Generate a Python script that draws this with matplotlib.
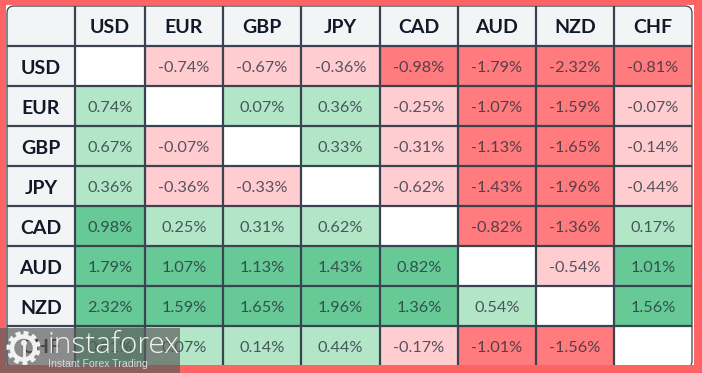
import numpy as np
import matplotlib.pyplot as plt
from matplotlib.patches import Rectangle, FancyBboxPatch, Circle

plt.rcParams['font.family'] = ['Lato', 'DejaVu Sans']

# Données du tableau
devises = ['USD', 'EUR', 'GBP', 'JPY', 'CAD', 'AUD', 'NZD', 'CHF']
usd = [None, -0.74, -0.67, -0.36, -0.98, -1.79, -2.32, -0.81]
eur = [0.74, None, 0.07, 0.36, -0.25, -1.07, -1.59, -0.07]
gbp = [0.67, -0.07, None, 0.33, -0.31, -1.13, -1.65, -0.14]
jpy = [0.36, -0.36, -0.33, None, -0.62, -1.43, -1.96, -0.44]
cad = [0.98, 0.25, 0.31, 0.62, None, -0.82, -1.36, 0.17]
aud = [1.79, 1.07, 1.13, 1.43, 0.82, None, -0.54, 1.01]
nzd = [2.32, 1.59, 1.65, 1.96, 1.36, 0.54, None, 1.56]
chf = [0.81, 0.07, 0.14, 0.44, -0.17, -1.01, -1.56, None]
lignes = [usd, eur, gbp, jpy, cad, aud, nzd, chf]

# Bords des colonnes et des lignes en pixels
bords_x = [7, 75, 145, 223, 301, 380, 458, 536, 614, 692]
bords_y = [6, 46, 86, 126, 166, 206, 246, 286, 326, 365]

ROUGE = '#ff6464'
TRAIT = '#3a4350'

def couleur(v):
    if v is None:
        return 'white'
    if v >= 0.75:
        return '#66c996'
    if v > 0:
        return '#b2e6c6'
    if v <= -0.75:
        return '#ff7b7e'
    return '#ffcccf'

fig = plt.figure(figsize=(7.02, 3.73), dpi=100, facecolor=ROUGE)
ax = fig.add_axes([0, 0, 1, 1])
ax.set_xlim(0, 702)
ax.set_ylim(373, 0)
ax.axis('off')

# Carte blanche derrière le tableau
ax.add_patch(Rectangle((6, 5), 688, 360, fc='white', ec='none', zorder=0))

# Fond de l'en-tête avec coins arrondis
fond = FancyBboxPatch((7, 6), 685, 362, boxstyle='round,pad=0,rounding_size=7',
                      fc='#f3f4f6', ec='none', zorder=1)
ax.add_patch(fond)

# Cellules
for i, ligne in enumerate(lignes):
    for j, v in enumerate(ligne):
        r = Rectangle((bords_x[j + 1], bords_y[i + 1]),
                      bords_x[j + 2] - bords_x[j + 1], bords_y[i + 2] - bords_y[i + 1],
                      fc=couleur(v), ec='none', zorder=2)
        ax.add_patch(r)
        if v is not None:
            ax.text((bords_x[j + 1] + bords_x[j + 2]) / 2, (bords_y[i + 1] + bords_y[i + 2]) / 2 + 2,
                    f'{v:.2f}%', ha='center', va='center', fontsize=11.7, color='#1f2937',
                    alpha=0.75, zorder=4)

# Traits de la grille
for x in bords_x[1:-1]:
    ax.plot([x, x], [bords_y[0], bords_y[-1]], color=TRAIT, lw=1.6, zorder=3, solid_capstyle='butt')
for y in bords_y[1:-1]:
    ax.plot([bords_x[0], bords_x[-1]], [y, y], color=TRAIT, lw=1.6, zorder=3, solid_capstyle='butt')
cadre = FancyBboxPatch((7, 6), 685, 362, boxstyle='round,pad=0,rounding_size=7',
                       fc='none', ec=TRAIT, lw=0.9, zorder=3)
ax.add_patch(cadre)

# Le tableau est coupé en bas
ax.add_patch(Rectangle((0, 365), 702, 8, fc=ROUGE, ec='none', zorder=3.5))

# En-têtes
for j, d in enumerate(devises):
    ax.text((bords_x[j + 1] + bords_x[j + 2]) / 2, 27.5, d, ha='center', va='center',
            fontsize=14, fontweight='bold', color='#111827', zorder=4)
    ax.text(41, (bords_y[j + 1] + bords_y[j + 2]) / 2 + 2, d, ha='center', va='center',
            fontsize=14, fontweight='bold', color='#111827', zorder=4)

# Filigrane
ax.add_patch(Rectangle((0, 328), 180, 45, fc='#5c5c5c', alpha=0.69, ec='none', zorder=5))
ax.add_patch(Circle((23.5, 348), 14.5, fc='none', ec='#f2f2f2', lw=3.6,
                    ls=(0, (0.95, 0.72)), zorder=6))
ax.add_patch(Circle((23.5, 348), 11.5, fc='none', ec='#f2f2f2', lw=3.2, zorder=6))
ax.add_patch(Circle((24, 343), 3, fc='#f2f2f2', ec='none', zorder=7))
ax.plot([24, 24], [343, 358], color='#f2f2f2', lw=2, zorder=7)
ax.text(47, 345, 'instaforex', ha='left', va='center', fontsize=21.5, color='#f2f2f2',
        family=['Open Sans', 'DejaVu Sans'], fontweight='light', zorder=6)
ax.text(48, 364, 'Instant Forex Trading', ha='left', va='center', fontsize=7.6, color='#d8d8d8',
        family=['Liberation Sans', 'DejaVu Sans'], zorder=6)

fig.savefig('out.png', dpi=100, facecolor=ROUGE)
